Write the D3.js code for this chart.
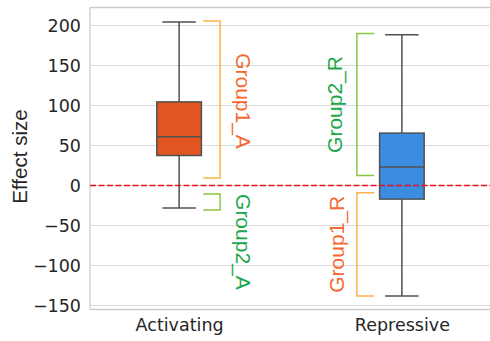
<!DOCTYPE html>
<html>
<head>
<meta charset="utf-8">
<script src="https://cdn.jsdelivr.net/npm/d3@7"></script>
<style>
  html, body { margin: 0; padding: 0; background: #fff; }
  svg { display: block; }
</style>
</head>
<body>
<svg id="chart" width="490" height="341"></svg>
<script>
// ---- data ----
const categories = ["Activating", "Repressive"];
const boxColors = ["#E25521", "#3A8DE0"];
const whiskerLow  = [-28, -138];
const q1          = [37.5, -17];
const medians     = [61, 23];
const q3          = [104.5, 65.5];
const whiskerHigh = [204.5, 188.5];
const yTicks = [-150, -100, -50, 0, 50, 100, 150, 200];
const yLabel = "Effect size";

// group brackets: label, category index, low, high, kind (1 or 2)
const bracketLabels = ["Group1_A", "Group2_A", "Group2_R", "Group1_R"];
const bracketCat    = [0, 0, 1, 1];
const bracketLow    = [9.5, -30.5, 12.5, -138];
const bracketHigh   = [205.5, -10.5, 190, -9];
const bracketKind   = [1, 2, 2, 1];

// ---- layout ----
const W = 490, H = 341;
const pLeft = 90, pTop = 7.5, pBottom = 309.5, pRight = 491;
const svg = d3.select("#chart");

const x = d3.scaleLinear().domain([-0.4, 1.4]).range([pLeft, pRight]);
const y = d3.scaleLinear().domain([222.5, -155]).range([pTop, pBottom]);

const gridCol = "#dcdcdc", spineCol = "#cccccc", lineCol = "#505050";
const tickFont = "DejaVu Sans", labFont = "Liberation Sans";

// grid
svg.append("g").selectAll("line").data(yTicks).join("line")
  .attr("x1", pLeft).attr("x2", W)
  .attr("y1", d => y(d)).attr("y2", d => y(d))
  .attr("stroke", gridCol).attr("stroke-width", 1.1);

// spines
svg.append("line").attr("x1", pLeft).attr("x2", W).attr("y1", pTop).attr("y2", pTop)
  .attr("stroke", spineCol).attr("stroke-width", 1.3);
svg.append("line").attr("x1", pLeft).attr("x2", W).attr("y1", pBottom).attr("y2", pBottom)
  .attr("stroke", spineCol).attr("stroke-width", 1.3);
svg.append("line").attr("x1", pLeft).attr("x2", pLeft).attr("y1", pTop).attr("y2", pBottom)
  .attr("stroke", spineCol).attr("stroke-width", 1.3);

// y axis labels
const yAxis = d3.axisLeft(y).tickValues(yTicks).tickSize(0).tickPadding(9)
  .tickFormat(d => (d < 0 ? "\u2212" + Math.abs(d) : String(d)));
const ga = svg.append("g").attr("transform", `translate(${pLeft},0)`).call(yAxis);
ga.select(".domain").remove();
ga.selectAll("text").attr("font-family", tickFont).attr("font-size", 17.5)
  .attr("fill", "#262626");

// x axis labels
const xAxis = d3.axisBottom(x).tickValues([0, 1]).tickSize(0).tickPadding(9)
  .tickFormat((d, i) => categories[i]);
const gx = svg.append("g").attr("transform", `translate(0,${pBottom})`).call(xAxis);
gx.select(".domain").remove();
gx.selectAll("text").attr("font-family", tickFont).attr("font-size", 17.5)
  .attr("fill", "#262626");

// y label
svg.append("text")
  .attr("transform", `translate(26.5,${(pTop + pBottom) / 2 - 2}) rotate(-90)`)
  .attr("text-anchor", "middle")
  .attr("font-family", labFont).attr("font-size", 20.6).attr("fill", "#262626")
  .text(yLabel);

// boxes
const boxW = 0.2, capW = 0.15;
categories.forEach((c, i) => {
  const g = svg.append("g");
  g.append("line").attr("x1", x(i)).attr("x2", x(i))
    .attr("y1", y(whiskerHigh[i])).attr("y2", y(q3[i]))
    .attr("stroke", lineCol).attr("stroke-width", 1.5);
  g.append("line").attr("x1", x(i)).attr("x2", x(i))
    .attr("y1", y(q1[i])).attr("y2", y(whiskerLow[i]))
    .attr("stroke", lineCol).attr("stroke-width", 1.5);
  [whiskerHigh[i], whiskerLow[i]].forEach(v => {
    g.append("line").attr("x1", x(i - capW / 2)).attr("x2", x(i + capW / 2))
      .attr("y1", y(v)).attr("y2", y(v))
      .attr("stroke", lineCol).attr("stroke-width", 1.5);
  });
  g.append("rect").attr("x", x(i - boxW / 2)).attr("width", x(i + boxW / 2) - x(i - boxW / 2))
    .attr("y", y(q3[i])).attr("height", y(q1[i]) - y(q3[i]))
    .attr("fill", boxColors[i]).attr("stroke", lineCol).attr("stroke-width", 1.5);
  g.append("line").attr("x1", x(i - boxW / 2)).attr("x2", x(i + boxW / 2))
    .attr("y1", y(medians[i])).attr("y2", y(medians[i]))
    .attr("stroke", lineCol).attr("stroke-width", 1.5);
});

// zero line (drawn over the boxes)
svg.append("line").attr("x1", pLeft).attr("x2", W).attr("y1", y(0)).attr("y2", y(0))
  .attr("stroke", "#E8101C").attr("stroke-width", 1.5).attr("stroke-dasharray", "6,2.5");

// brackets
const bracketColor = { 1: "#FDB24A", 2: "#8CC63F" };
const textColor = { 1: "#F26A30", 2: "#1BA84A" };
bracketLabels.forEach((lab, k) => {
  const i = bracketCat[k];
  const y1 = y(bracketHigh[k]), y2 = y(bracketLow[k]);
  let xa, xb, path, tx, ty, rot;
  if (i === 0) {
    xa = x(i + 0.108); xb = x(i + 0.184);
    path = `M${xa},${y1}H${xb}V${y2}H${xa}`;
    tx = 236;
    rot = 90;
    ty = k === 0 ? (y1 + y2) / 2 + 1.5 : y1 + 48;
  } else {
    xa = x(i - 0.202); xb = x(i - 0.124);
    path = `M${xb},${y1}H${xa}V${y2}H${xb}`;
    tx = k === 2 ? 341.5 : 344;
    rot = -90;
    ty = (y1 + y2) / 2;
  }
  svg.append("path").attr("d", path).attr("fill", "none")
    .attr("stroke", bracketColor[bracketKind[k]]).attr("stroke-width", 1.5);
  svg.append("text")
    .attr("transform", `translate(${tx},${ty}) rotate(${rot})`)
    .attr("text-anchor", "middle")
    .attr("font-family", labFont).attr("font-size", 21)
    .attr("fill", textColor[bracketKind[k]])
    .text(lab);
});
</script>
</body>
</html>
